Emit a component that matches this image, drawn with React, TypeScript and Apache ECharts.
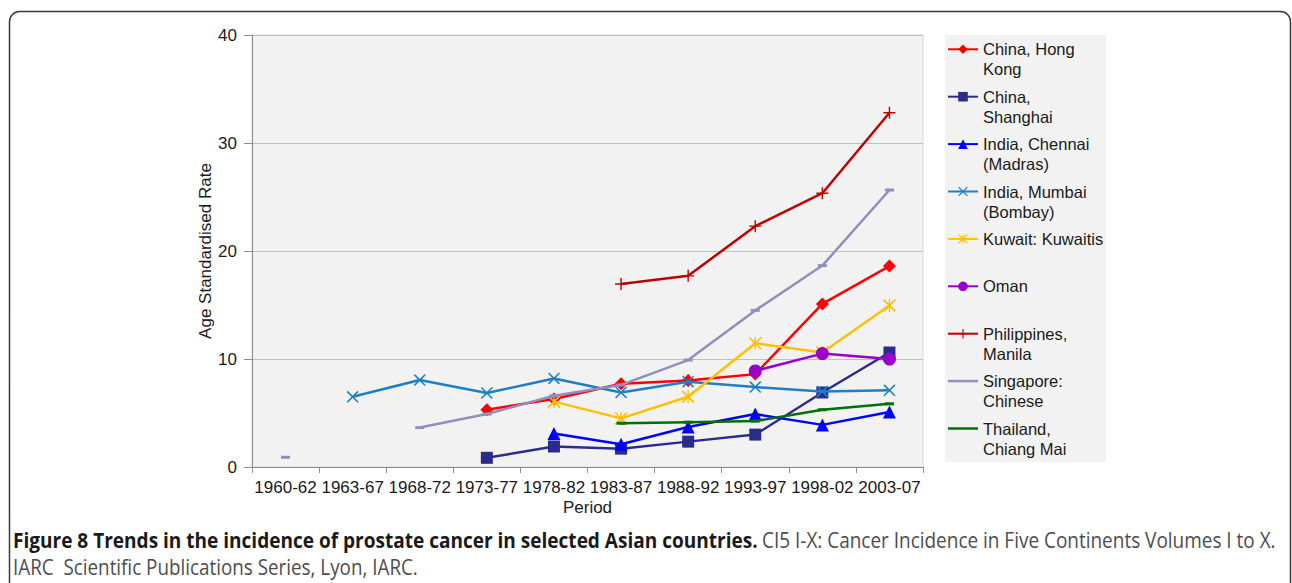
import React, { useEffect, useRef } from 'react';
import * as echarts from 'echarts';

const periods = ['1960-62', '1963-67', '1968-72', '1973-77', '1978-82', '1983-87', '1988-92', '1993-97', '1998-02', '2003-07'];

const hongKong = [null, null, null, 5.3, 6.3, 7.7, 8.0, 8.6, 15.1, 18.6];
const shanghai = [null, null, null, 0.85, 1.9, 1.7, 2.35, 3.0, 6.9, 10.6];
const chennai = [null, null, null, null, 3.1, 2.1, 3.7, 4.9, 3.9, 5.1];
const mumbai = [null, 6.5, 8.05, 6.85, 8.2, 6.9, 7.9, 7.4, 7.0, 7.1];
const kuwait = [null, null, null, null, 6.05, 4.5, 6.5, 11.45, 10.6, 14.95];
const oman = [null, null, null, null, null, null, null, 8.9, 10.5, 10.0];
const philippines = [null, null, null, null, null, 16.95, 17.7, 22.3, 25.35, 32.8];
const singapore = [0.9, null, 3.65, 4.9, 6.6, 7.6, 9.9, 14.5, 18.65, 25.65];
const thailand = [null, null, null, null, null, 4.05, 4.15, 4.25, 5.3, 5.85];

const seriesNames = [
  'China, Hong Kong',
  'China, Shanghai',
  'India, Chennai (Madras)',
  'India, Mumbai (Bombay)',
  'Kuwait: Kuwaitis',
  'Oman',
  'Philippines, Manila',
  'Singapore: Chinese',
  'Thailand, Chiang Mai',
];
const legendLines: string[][] = [
  ['China, Hong', 'Kong'],
  ['China,', 'Shanghai'],
  ['India, Chennai', '(Madras)'],
  ['India, Mumbai', '(Bombay)'],
  ['Kuwait: Kuwaitis', ''],
  ['Oman', ''],
  ['Philippines,', 'Manila'],
  ['Singapore:', 'Chinese'],
  ['Thailand,', 'Chiang Mai'],
];

const captionBold = 'Figure 8 Trends in the incidence of prostate cancer in selected Asian countries.';
const captionRest = 'CI5 I-X: Cancer Incidence in Five Continents Volumes I to X.';
const captionLine2 = 'IARC  Scientific Publications Series, Lyon, IARC.';

const FONT = 'Arial';
const CAP_FONT = 'Open Sans';

const SYM_PLUS = 'path://M5.3,0H6.7V12H5.3ZM0,5.3H12V6.7H0Z';
const SYM_X = 'path://M0,1.1L1.1,0L12,10.9L10.9,12ZM10.9,0L12,1.1L1.1,12L0,10.9Z';
const SYM_STAR = 'path://M0,1.1L1.1,0L12,10.9L10.9,12ZM10.9,0L12,1.1L1.1,12L0,10.9ZM5.4,0H6.6V12H5.4Z';
const SYM_DASH = 'path://M0,0H10V3H0Z';

export default function App() {
  const ref = useRef<HTMLDivElement>(null);

  useEffect(() => {
    if (!ref.current) return;
    const chart = echarts.init(ref.current, undefined, { renderer: 'svg' });

    const ctx = document.createElement('canvas').getContext('2d')!;
    const measure = (t: string, w: string, size: number) => {
      ctx.font = `${w} ${size}px 'Open Sans'`;
      return ctx.measureText(t).width;
    };
    const capSize = 21;
    const sBold = 745 / measure(captionBold, 'bold', capSize);
    const sRest = 514 / measure(captionRest, 'normal', capSize);
    const sLine2 = 405 / measure(captionLine2, 'normal', capSize);

    const datasets = [hongKong, shanghai, chennai, mumbai, kuwait, oman, philippines, singapore, thailand];
    const colors = ['#ff0000', '#2b2b8c', '#0000ff', '#1e7ec8', '#ffc000', '#9900cc', '#c00000', '#8f8fbf', '#007000'];
    const symbols = ['diamond', 'rect', 'triangle', SYM_X, SYM_STAR, 'circle', SYM_PLUS, SYM_DASH, SYM_DASH];
    const sizes: any[] = [13, 12, 13, 12, 13, 13, 12, [9, 3], [9, 3]];

    const legendMap: Record<string, string> = {};
    seriesNames.forEach((n, i) => {
      legendMap[n] = '\n' + legendLines[i][0] + '\n' + legendLines[i][1];
    });

    const series = seriesNames.map((name, i) => ({
      name,
      type: 'line',
      data: datasets[i],
      connectNulls: false,
      showAllSymbol: true,
      symbol: symbols[i],
      symbolSize: sizes[i],
      lineStyle: { color: colors[i], width: 2.5 },
      itemStyle: { color: colors[i] },
      emphasis: { disabled: true },
      z: 2 + i * 0.01,
    }));

    chart.setOption({
      animation: false,
      backgroundColor: '#ffffff',
      textStyle: { fontFamily: FONT },
      grid: {
        left: 252,
        right: 369,
        top: 35,
        bottom: 116,
        show: true,
        backgroundColor: '#f2f2f2',
        borderColor: '#d9d9d9',
        borderWidth: 1,
      },
      xAxis: {
        type: 'category',
        data: periods,
        boundaryGap: true,
        name: 'Period',
        nameLocation: 'middle',
        nameGap: 32,
        nameMoveOverlap: false,
        nameTextStyle: { fontSize: 17, color: '#1a1a1a', fontFamily: FONT },
        axisLine: { show: true, lineStyle: { color: '#8c8c8c', width: 1 } },
        axisTick: { show: true, length: 6, lineStyle: { color: '#8c8c8c' } },
        axisLabel: { fontSize: 17, color: '#1a1a1a', margin: 12, interval: 0, fontFamily: FONT },
        splitLine: { show: false },
      },
      yAxis: {
        type: 'value',
        min: 0,
        max: 40,
        interval: 10,
        name: 'Age Standardised Rate',
        nameLocation: 'middle',
        nameGap: 38,
        nameMoveOverlap: false,
        nameRotate: 90,
        nameTextStyle: { fontSize: 17, color: '#1a1a1a', fontFamily: FONT },
        axisLine: { show: true, lineStyle: { color: '#8c8c8c', width: 1 } },
        axisTick: { show: true, length: 8, lineStyle: { color: '#8c8c8c' } },
        axisLabel: { fontSize: 17, color: '#1a1a1a', margin: 15, fontFamily: FONT },
        splitLine: { show: true, lineStyle: { color: '#bfbfbf', width: 1 } },
      },
      legend: {
        orient: 'vertical',
        left: 947,
        top: 19.3,
        padding: 0,
        itemWidth: 30,
        itemHeight: 12,
        itemGap: -12.6,
        selectedMode: false,
        textStyle: { fontSize: 16.5, lineHeight: 20, color: '#1a1a1a', fontFamily: FONT },
        formatter: (name: string) => legendMap[name] || name,
        data: seriesNames.map((n, i) =>
          i >= 7 ? { name: n, icon: 'path://M0,0H30V2.5H0Z' } : { name: n }
        ),
      },
      graphic: [
        {
          type: 'rect',
          z: 0,
          shape: { x: 945, y: 35, width: 161, height: 427 },
          style: { fill: '#f2f2f2' },
        },
        {
          type: 'rect',
          z: 10,
          shape: { x: 9.5, y: 11.5, width: 1281, height: 640, r: 10 },
          style: { fill: 'none', stroke: '#3a3a3a', lineWidth: 1.5 },
        },
        {
          type: 'text',
          x: 13,
          y: 540,
          scaleX: sBold,
          style: {
            text: captionBold,
            fontFamily: CAP_FONT,
            fontWeight: 'bold',
            fontSize: capSize,
            fill: '#1a1a1a',
            verticalAlign: 'middle',
          },
        },
        {
          type: 'text',
          x: 762,
          y: 540,
          scaleX: sRest,
          style: {
            text: captionRest,
            fontFamily: CAP_FONT,
            fontSize: capSize,
            fill: '#4d4d4d',
            verticalAlign: 'middle',
          },
        },
        {
          type: 'text',
          x: 13,
          y: 567,
          scaleX: sLine2,
          style: {
            text: captionLine2,
            fontFamily: CAP_FONT,
            fontSize: capSize,
            fill: '#4d4d4d',
            verticalAlign: 'middle',
          },
        },
      ],
      series,
    });

    return () => {
      chart.dispose();
    };
  }, []);

  return (
    <div
      ref={ref}
      style={{ position: 'absolute', left: 0, top: 0, width: 1292, height: 583, background: '#fff' }}
    />
  );
}
